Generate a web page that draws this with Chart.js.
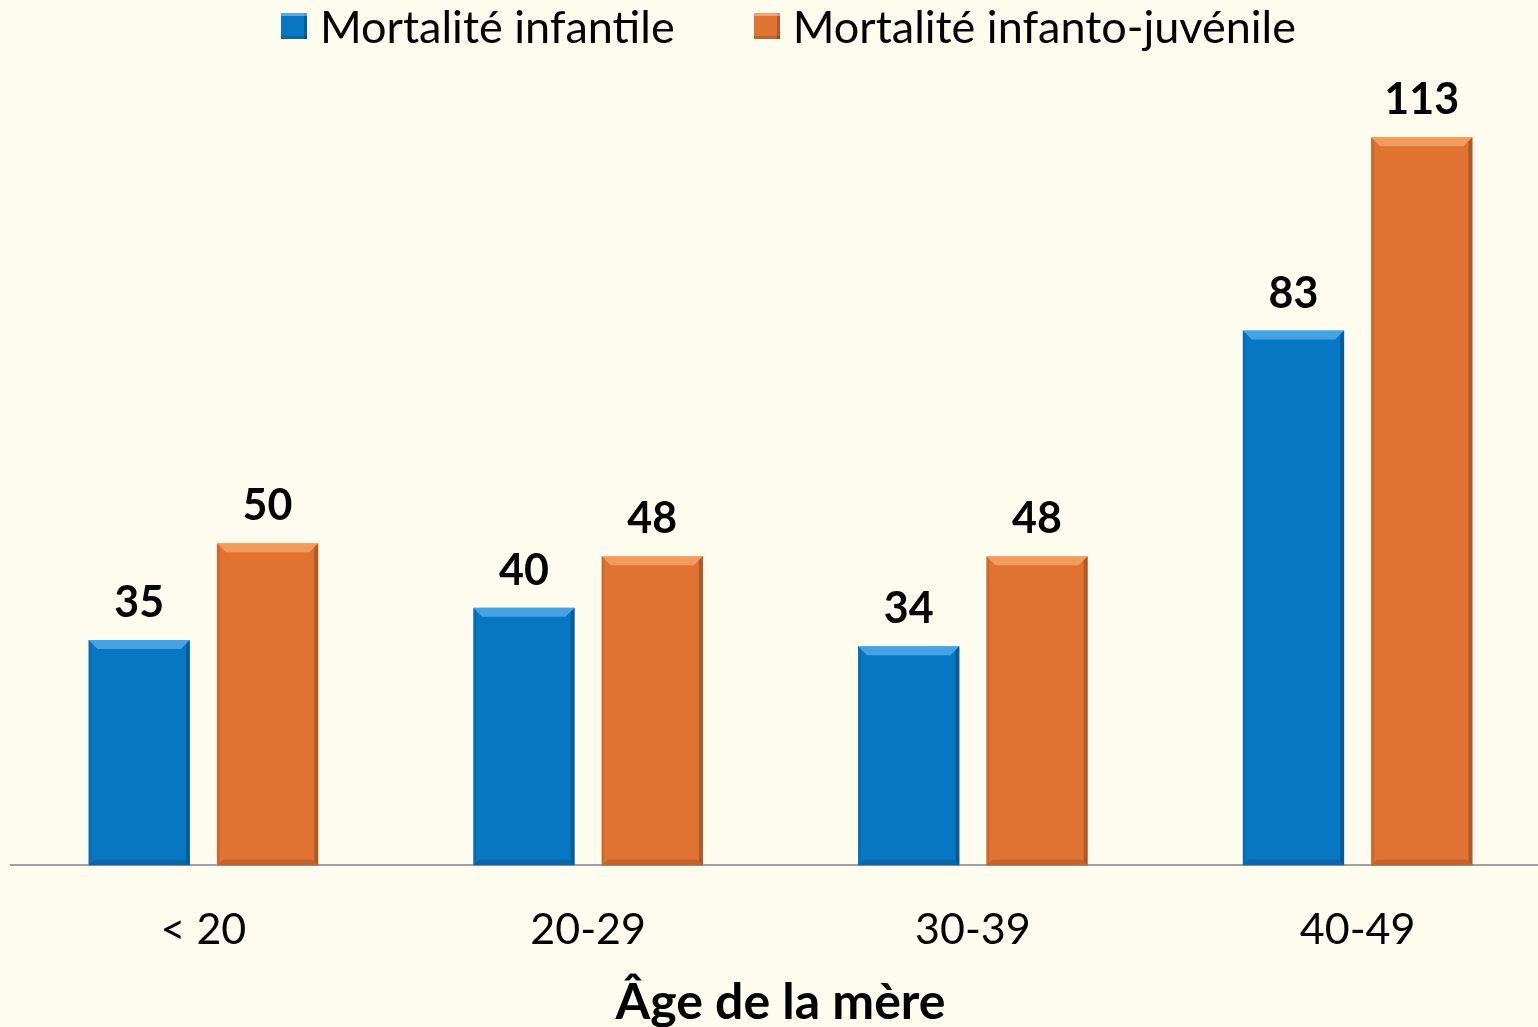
<!DOCTYPE html>
<html lang="fr">
<head>
  <meta charset="UTF-8" />
  <title>Mortalité selon l'âge de la mère</title>
  <script src="https://cdn.jsdelivr.net/npm/chart.js"></script>
  <style>
    * { box-sizing: border-box; }
    body {
      margin: 0;
      background: #fefbef;
      overflow: hidden;
      font-family: Lato, 'Open Sans', sans-serif;
    }
    .wrap {
      width: 1550px;
      height: 1027px;
      position: relative;
    }
    /* html legend, the canvas one pads too much vertically */
    #legend {
      position: absolute;
      top: 0; left: 281px;
      height: 52px;
      display: flex;
      align-items: center;
      font-size: 45px;
      color: #000;
      white-space: nowrap;
    }
    #legend .item { display: flex; align-items: center; }
    #legend .item + .item { margin-left: 79px; }
    #legend .box {
      width: 26px; height: 26px;
      margin-right: 13px;
      box-shadow: inset 0 3px 0 rgba(255,255,255,0.35), inset -3px 0 0 rgba(0,0,0,0.2), inset 0 -3px 0 rgba(0,0,0,0.15);
    }
  </style>
</head>
<body>
  <div class="wrap">
    <canvas id="chart"></canvas>
    <div id="legend"></div>
  </div>

<script>
  const categories = ['< 20', '20-29', '30-39', '40-49'];
  const infantile = [35, 40, 34, 83];
  const infantoJuvenile = [50, 48, 48, 113];
  const seriesNames = ['Mortalité infantile', 'Mortalité infanto-juvénile'];
  const axisTitle = 'Âge de la mère';

  const BLUE = '#0777c3';
  const ORANGE = '#e07232';

  // bevel look like the office chart (light top edge, dark right edge)
  const bevel = {
    id: 'bevel',
    afterDatasetsDraw(chart) {
      const ctx = chart.ctx;
      chart.data.datasets.forEach((ds, i) => {
        const meta = chart.getDatasetMeta(i);
        const light = i === 0 ? 'rgba(120,200,255,0.55)' : 'rgba(255,190,130,0.55)';
        meta.data.forEach(bar => {
          const half = bar.width / 2;
          const l = bar.x - half, r = bar.x + half;
          const t = bar.y, b = bar.base;
          const s = 9;
          ctx.save();
          ctx.fillStyle = light;
          ctx.beginPath();
          ctx.moveTo(l, t); ctx.lineTo(r, t); ctx.lineTo(r - s, t + s); ctx.lineTo(l + s, t + s);
          ctx.closePath(); ctx.fill();
          ctx.fillStyle = 'rgba(0,0,0,0.22)';
          ctx.beginPath();
          ctx.moveTo(r, t); ctx.lineTo(r, b); ctx.lineTo(r - 4, b - 4); ctx.lineTo(r - 4, t + 4);
          ctx.closePath(); ctx.fill();
          ctx.fillStyle = 'rgba(0,0,0,0.08)';
          ctx.beginPath();
          ctx.moveTo(l, t); ctx.lineTo(l, b); ctx.lineTo(l + 3, b - 3); ctx.lineTo(l + 3, t + 3);
          ctx.closePath(); ctx.fill();
          ctx.fillStyle = 'rgba(0,0,0,0.12)';
          ctx.beginPath();
          ctx.moveTo(l, b); ctx.lineTo(r, b); ctx.lineTo(r - 6, b - 6); ctx.lineTo(l + 6, b - 6);
          ctx.closePath(); ctx.fill();
          ctx.restore();
        });
      });
    }
  };

  // value labels above the bars
  const valueLabels = {
    id: 'valueLabels',
    afterDatasetsDraw(chart) {
      const ctx = chart.ctx;
      ctx.save();
      ctx.font = 'bold 43px Lato, sans-serif';
      ctx.fillStyle = '#000';
      ctx.textAlign = 'center';
      ctx.textBaseline = 'alphabetic';
      chart.data.datasets.forEach((ds, i) => {
        chart.getDatasetMeta(i).data.forEach((bar, j) => {
          ctx.fillText(ds.data[j], bar.x, bar.y - 23);
        });
      });
      ctx.restore();
    }
  };

  const chart = new Chart(document.getElementById('chart'), {
    type: 'bar',
    data: {
      labels: categories,
      datasets: [
        { label: seriesNames[0], data: infantile, backgroundColor: BLUE, categoryPercentage: 0.667, barPercentage: 0.79 },
        { label: seriesNames[1], data: infantoJuvenile, backgroundColor: ORANGE, categoryPercentage: 0.667, barPercentage: 0.79 }
      ]
    },
    options: {
      responsive: true,
      maintainAspectRatio: false,
      animation: false,
      layout: { padding: { left: 11, right: 0, top: 60, bottom: 0 } },
      plugins: {
        legend: { display: false },
        tooltip: { enabled: false }
      },
      scales: {
        x: {
          grid: { display: false },
          border: { color: '#a0a0a0', width: 2 },
          ticks: { color: '#000', font: { size: 43, family: 'Lato, sans-serif' }, padding: 31 },
          title: {
            display: true,
            text: axisTitle,
            color: '#000',
            font: { size: 50, weight: 'bold', family: 'Lato, sans-serif' },
            padding: { top: -14, bottom: -6 }
          }
        },
        y: {
          display: false,
          min: 0,
          max: 125
        }
      }
    },
    plugins: [bevel, valueLabels]
  });

  // legend
  const legendEl = document.getElementById('legend');
  chart.data.datasets.forEach(ds => {
    const item = document.createElement('div');
    item.className = 'item';
    item.innerHTML = `<span class="box" style="background:${ds.backgroundColor}"></span><span>${ds.label}</span>`;
    legendEl.appendChild(item);
  });
</script>
</body>
</html>
